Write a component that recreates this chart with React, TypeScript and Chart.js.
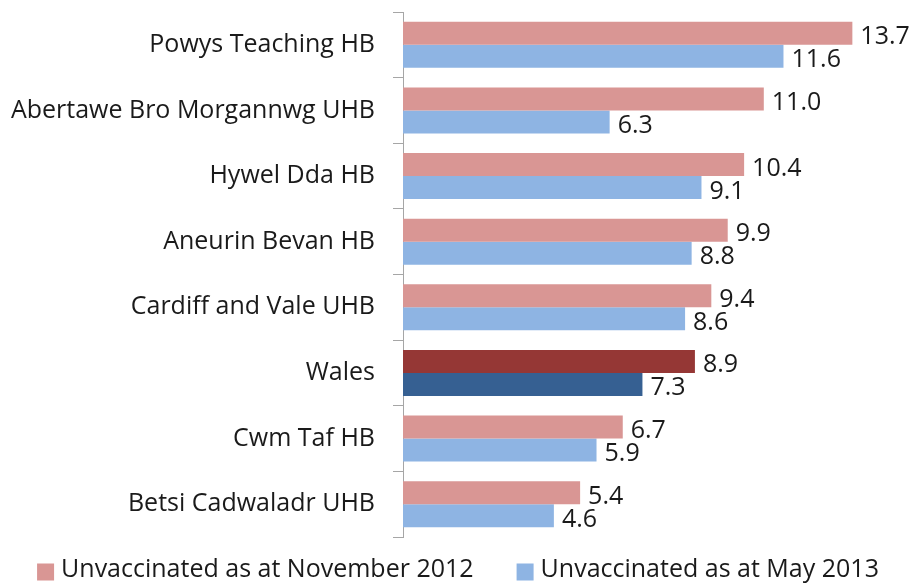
import React, { useEffect, useRef } from "react";
import { Chart, registerables } from "chart.js";

Chart.register(...registerables);

const categories = [
  "Powys Teaching HB",
  "Abertawe Bro Morgannwg UHB",
  "Hywel Dda HB",
  "Aneurin Bevan HB",
  "Cardiff and Vale UHB",
  "Wales",
  "Cwm Taf HB",
  "Betsi Cadwaladr UHB",
];
const nov2012 = [13.7, 11.0, 10.4, 9.9, 9.4, 8.9, 6.7, 5.4];
const may2013 = [11.6, 6.3, 9.1, 8.8, 8.6, 7.3, 5.9, 4.6];
const seriesNames = ["Unvaccinated as at November 2012", "Unvaccinated as at May 2013"];
const highlight = "Wales";

const PINK = "#D99694";
const BLUE = "#8EB4E3";
const DARK_RED = "#953735";
const DARK_BLUE = "#366092";
const FONT = "'Open Sans', sans-serif";
const FONT_SIZE = 25;

const valueLabels = {
  id: "valueLabels",
  afterDatasetsDraw(chart: any) {
    const ctx = chart.ctx;
    ctx.save();
    ctx.font = `${FONT_SIZE}px ${FONT}`;
    ctx.fillStyle = "#1a1a1a";
    ctx.textAlign = "left";
    ctx.textBaseline = "alphabetic";
    chart.data.datasets.forEach((ds: any, di: number) => {
      const meta = chart.getDatasetMeta(di);
      meta.data.forEach((bar: any, i: number) => {
        ctx.fillText(Number(ds.data[i]).toFixed(1), bar.x + 8, bar.y + 11);
      });
    });
    ctx.restore();
  },
};

const bottomLegend = {
  id: "bottomLegend",
  afterDraw(chart: any) {
    const ctx = chart.ctx;
    const colors = [PINK, BLUE];
    const box = 17;
    const gapBoxText = 7;
    const gapItems = 43;
    ctx.save();
    ctx.font = `${FONT_SIZE}px ${FONT}`;
    ctx.textBaseline = "middle";
    ctx.textAlign = "left";
    const widths = seriesNames.map((s) => box + gapBoxText + ctx.measureText(s).width);
    const total = widths.reduce((a, b) => a + b, 0) + gapItems * (widths.length - 1);
    let x = (chart.width - total) / 2;
    const cy = chart.chartArea.bottom + 33;
    seriesNames.forEach((s, i) => {
      ctx.fillStyle = colors[i];
      ctx.fillRect(x, cy - box / 2 + 2, box, box);
      ctx.fillStyle = "#1a1a1a";
      ctx.fillText(s, x + box + gapBoxText, cy);
      x += widths[i] + gapItems;
    });
    ctx.restore();
  },
};

export default function App() {
  const ref = useRef<HTMLCanvasElement | null>(null);
  useEffect(() => {
    if (!ref.current) return;
    const colorsFor = (base: string, hi: string) =>
      categories.map((c) => (c === highlight ? hi : base));
    const chart = new Chart(ref.current, {
      type: "bar",
      data: {
        labels: categories,
        datasets: [
          {
            label: seriesNames[0],
            data: nov2012,
            backgroundColor: colorsFor(PINK, DARK_RED),
            categoryPercentage: 0.7,
            barPercentage: 1.0,
          },
          {
            label: seriesNames[1],
            data: may2013,
            backgroundColor: colorsFor(BLUE, DARK_BLUE),
            categoryPercentage: 0.7,
            barPercentage: 1.0,
          },
        ],
      },
      options: {
        indexAxis: "y",
        animation: false,
        responsive: true,
        maintainAspectRatio: false,
        layout: { padding: { top: 12, right: 21, left: 0, bottom: 48 } },
        scales: {
          x: { display: false, min: 0, max: 15 },
          y: {
            border: { display: true, color: "#A6A6A6", width: 1 },
            grid: {
              drawOnChartArea: false,
              drawTicks: true,
              tickLength: 10,
              color: "#A6A6A6",
            },
            ticks: {
              padding: 18,
              color: "#1a1a1a",
              font: { size: FONT_SIZE, family: FONT },
            },
            afterFit: (scale: any) => {
              scale.width = 403;
              scale.paddingTop = 0;
              scale.paddingBottom = 0;
            },
          },
        },
        plugins: {
          tooltip: { enabled: false },
          legend: { display: false },
        },
      },
      plugins: [valueLabels, bottomLegend],
    });
    return () => chart.destroy();
  }, []);
  return (
    <div style={{ position: "absolute", left: 0, top: 0, width: 916, height: 585, background: "#fff" }}>
      <canvas ref={ref} />
    </div>
  );
}
